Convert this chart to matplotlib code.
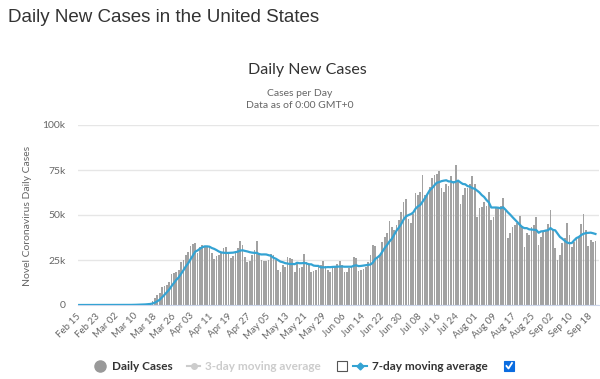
import matplotlib
matplotlib.use('Agg')
import matplotlib.pyplot as plt
from matplotlib.lines import Line2D
from matplotlib.patches import Rectangle
import numpy as np

# daily new cases (thousands), Feb 15 - Sep 20
feb = [0] * 15
mar = [0.01, 0.02, 0.02, 0.03, 0.07, 0.05, 0.14, 0.12, 0.07, 0.38, 0.32, 0.38, 0.52, 0.55, 0.77, 1.1,
       2.4, 3.7, 5.6, 6.4, 9.8, 10.5, 11.0, 13.0, 17.2, 17.6, 18.5, 19.4, 24.0, 25.0, 27.8]
apr = [29.6, 32.8, 33.9, 34.3, 28.7, 32.0, 33.3, 33.0, 32.8, 32.8, 29.0, 25.4, 27.2, 27.8, 29.5,
       31.5, 32.2, 29.0, 26.1, 27.5, 29.6, 31.5, 35.6, 33.5, 26.5, 24.1, 24.7, 27.8, 30.6, 35.6]
may = [28.7, 25.0, 24.4, 24.4, 25.0, 28.3, 28.0, 25.0, 19.4, 18.5, 22.2, 21.3, 26.9, 25.9, 25.5,
       18.5, 24.0, 20.4, 21.3, 28.1, 24.0, 22.0, 18.5, 18.9, 19.4, 21.3, 22.2, 24.4, 21.9, 19.4, 18.5]
jun = [20.4, 21.9, 23.0, 24.4, 22.2, 18.5, 18.5, 20.4, 21.9, 26.9, 26.0, 18.9, 19.4, 19.8, 21.3,
       24.0, 28.0, 33.3, 33.0, 26.0, 27.8, 35.2, 38.0, 40.0, 46.9, 43.1, 41.7, 44.4, 47.2, 51.9]
jul = [57.4, 58.9, 48.0, 45.4, 50.4, 62.0, 61.0, 63.0, 72.2, 61.0, 61.0, 65.7, 70.4, 72.2, 73.0,
       74.6, 64.8, 63.0, 67.0, 66.0, 71.9, 69.0, 77.8, 69.0, 56.0, 61.0, 64.8, 64.8, 67.0, 71.7, 67.0]
aug = [48.7, 53.7, 54.6, 57.4, 55.0, 62.6, 47.2, 48.7, 53.7, 53.7, 55.0, 59.3, 53.1, 37.0, 39.8,
       43.5, 44.4, 45.4, 49.4, 44.0, 32.4, 39.8, 38.9, 43.5, 44.4, 48.7, 33.3, 37.6, 40.7, 41.3, 44.8]
sep = [52.8, 41.7, 31.5, 25.0, 27.8, 34.3, 37.0, 45.7, 38.9, 32.4, 35.2, 37.0, 38.3, 44.8, 50.4,
       41.7, 33.0, 36.1, 34.8, 35.5]

# 7-day moving average (thousands)
ma_feb = [0] * 15
ma_mar = [0.0, 0.0, 0.01, 0.01, 0.02, 0.03, 0.05, 0.06, 0.07, 0.12, 0.16, 0.21, 0.28, 0.33, 0.43,
          0.57, 0.86, 1.35, 2.09, 2.93, 4.25, 5.64, 7.06, 8.57, 10.5, 12.21, 13.94, 15.31, 17.24,
          19.24, 21.36]
ma_apr = [23.13, 25.3, 27.5, 29.63, 30.3, 31.3, 32.09, 32.57, 32.57, 32.41, 31.66, 31.19, 30.5,
          29.71, 29.21, 29.03, 28.94, 28.94, 29.04, 29.09, 29.34, 29.63, 30.21, 30.4, 30.04, 29.76,
          29.36, 29.1, 28.97, 28.97]
ma_may = [28.29, 28.07, 28.11, 28.07, 27.67, 27.34, 26.26, 25.73, 24.93, 24.09, 23.77, 23.24, 23.04,
          22.74, 22.81, 22.69, 23.47, 23.21, 23.21, 23.39, 23.11, 22.61, 22.61, 21.89, 21.74, 21.74,
          20.9, 20.96, 20.94, 21.07, 21.01]
ma_jun = [21.16, 21.24, 21.36, 21.36, 21.4, 21.27, 21.27, 21.27, 21.27, 21.83, 22.06, 21.59, 21.71,
          21.9, 22.03, 22.33, 22.49, 23.53, 25.54, 26.49, 27.63, 29.61, 31.61, 33.33, 35.27, 36.71,
          38.96, 41.33, 43.04, 45.03]
ma_jul = [47.51, 49.23, 49.93, 50.46, 51.31, 53.43, 54.73, 55.53, 57.43, 59.29, 61.51, 63.7, 64.9,
          66.5, 67.93, 68.27, 68.81, 69.1, 69.29, 68.66, 68.61, 68.04, 68.5, 69.1, 68.1, 67.24,
          67.07, 66.06, 65.77, 64.9, 64.61]
ma_aug = [63.57, 62.53, 61.07, 60.01, 58.3, 57.0, 54.17, 54.17, 54.17, 54.04, 53.7, 54.31, 52.96,
          51.5, 50.23, 48.77, 47.44, 46.07, 44.66, 43.36, 42.7, 42.7, 42.04, 41.91, 41.77, 41.67,
          40.14, 40.89, 41.01, 41.36, 41.54]
ma_sep = [42.74, 41.74, 41.49, 39.69, 37.84, 36.84, 35.73, 34.71, 34.31, 34.44, 35.9, 37.21, 37.79,
          38.9, 39.57, 39.97, 40.06, 40.19, 39.87, 39.47]

xtick_labels = ["Feb 15", "Feb 23", "Mar 02", "Mar 10", "Mar 18", "Mar 26", "Apr 03", "Apr 11",
                "Apr 19", "Apr 27", "May 05", "May 13", "May 21", "May 29", "Jun 06", "Jun 14",
                "Jun 22", "Jun 30", "Jul 08", "Jul 16", "Jul 24", "Aug 01", "Aug 09", "Aug 17",
                "Aug 25", "Sep 02", "Sep 10", "Sep 18"]
ytick_vals = [0, 25, 50, 75, 100]
ytick_labels = ["0", "25k", "50k", "75k", "100k"]

daily = feb + mar + apr + may + jun + jul + aug + sep
avg7 = ma_feb + ma_mar + ma_apr + ma_may + ma_jun + ma_jul + ma_aug + ma_sep

plt.rcParams['font.family'] = ['Lato', 'DejaVu Sans']

W, H = 600, 379


def fx(px):
    return px / W


def fy(py):
    return 1 - py / H


fig = plt.figure(figsize=(6, 3.79), dpi=100)
ax = fig.add_axes([fx(78), fy(305), 521 / W, 180 / H])

x = np.arange(len(daily))
ax.bar(x, daily, width=0.72, color='#a2a2a2', linewidth=0, zorder=2)
ax.plot(x, avg7, color='#34a3d3', lw=1.6, zorder=3)

ax.set_xlim(-0.5, len(daily) + 0.5)
ax.set_ylim(0, 100)
ax.set_yticks(ytick_vals)
ax.set_yticklabels(ytick_labels)
ax.yaxis.grid(True, color='#e6e6e6', lw=1)
ax.set_axisbelow(True)
for s in ['top', 'right', 'left']:
    ax.spines[s].set_visible(False)
ax.spines['bottom'].set_color('#ccd6eb')
ax.tick_params(axis='y', length=0, colors='#666666', labelsize=7.5, pad=9)
ax.set_xticks(x[::8])
ax.set_xticklabels(xtick_labels, rotation=45, ha='right', va='center', rotation_mode='anchor')
ax.tick_params(axis='x', length=0, colors='#666666', labelsize=7, pad=7)

# titles
fig.text(fx(8), fy(17), 'Daily New Cases in the United States', fontsize=13.5,
         family='Liberation Sans', color='#333333', va='center')
fig.text(fx(307), fy(70), 'Daily New Cases', fontsize=11.5, color='#333333', ha='center', va='center')
fig.text(fx(300), fy(93), 'Cases per Day', fontsize=7.5, color='#666666', ha='center', va='center')
fig.text(fx(300), fy(106), 'Data as of 0:00 GMT+0', fontsize=7.5, color='#666666', ha='center', va='center')
fig.text(fx(28), fy(216), 'Novel Coronavirus Daily Cases', fontsize=7.5, color='#666666',
         rotation=90, ha='center', va='center')

# legend
ly = fy(366)
fig.add_artist(Line2D([fx(100)], [ly], marker='o', markersize=8, color='#999999',
                      transform=fig.transFigure))
fig.text(fx(112), ly, 'Daily Cases', fontsize=8.5, weight='bold', color='#333333', va='center')
fig.add_artist(Line2D([fx(187), fx(200)], [ly, ly], lw=1.5, color='#cccccc', marker='o',
                      markevery=[1], markersize=0, transform=fig.transFigure))
fig.add_artist(Line2D([fx(193.5)], [ly], marker='o', markersize=4, color='#cccccc',
                      transform=fig.transFigure))
fig.text(fx(205), ly, '3-day moving average', fontsize=8.5, weight='bold', color='#cccccc', va='center')
fig.add_artist(Rectangle((fx(337), fy(371)), 10 / W, 10 / H, facecolor='white', edgecolor='#555555',
                         lw=0.8, transform=fig.transFigure))
fig.add_artist(Line2D([fx(353), fx(367)], [ly, ly], lw=1.5, color='#34a3d3', transform=fig.transFigure))
fig.add_artist(Line2D([fx(360)], [ly], marker='D', markersize=3.5, color='#34a3d3',
                      transform=fig.transFigure))
fig.text(fx(372), ly, '7-day moving average', fontsize=8.5, weight='bold', color='#333333', va='center')
fig.add_artist(Rectangle((fx(504), fy(371)), 10 / W, 10 / H, facecolor='#0a6ce0', edgecolor='#0a6ce0',
                         lw=0.8, transform=fig.transFigure))
fig.add_artist(Line2D([fx(506.5), fx(508.5), fx(512)], [fy(366), fy(368.5), fy(363)], lw=1.3,
                      color='white', transform=fig.transFigure))

fig.savefig('out.png', dpi=100)
